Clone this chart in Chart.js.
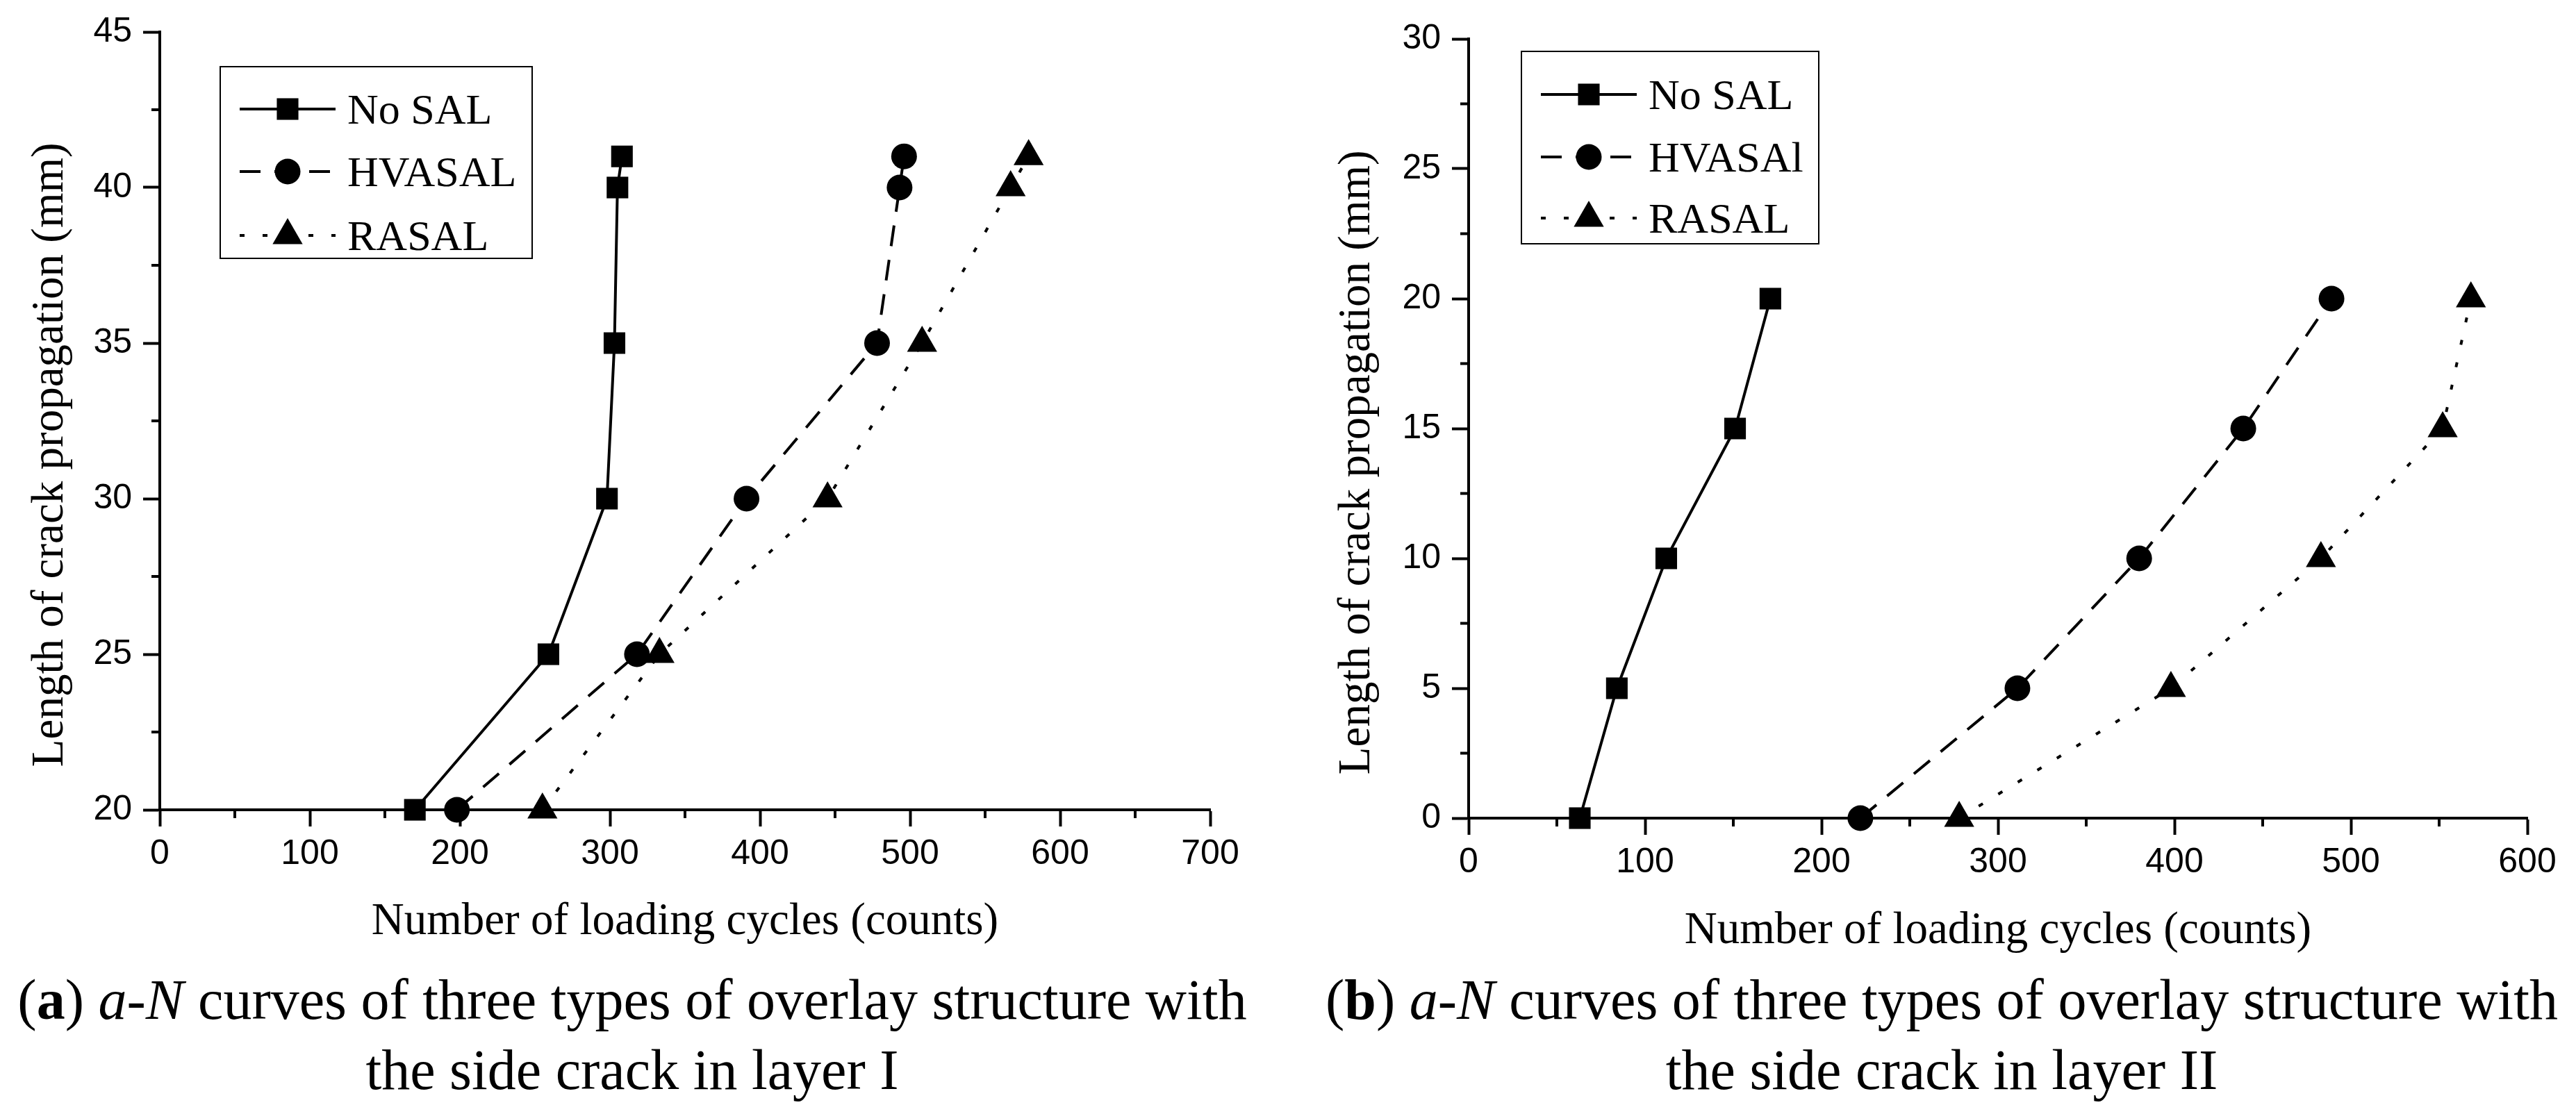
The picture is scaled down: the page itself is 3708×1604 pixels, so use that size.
<!DOCTYPE html>
<html>
<head>
<meta charset="utf-8">
<script src="https://cdn.jsdelivr.net/npm/chart.js@4.4.1/dist/chart.umd.min.js"></script>
<style>
  html, body { margin: 0; padding: 0; background: #fff; }
  body { width: 3708px; height: 1604px; position: relative; overflow: hidden; }
  canvas { position: absolute; top: 0; }
  #chart-a { left: 0; }
  #chart-b { left: 1854px; }
  .caption {
    position: absolute;
    top: 1389px;
    font-family: "Liberation Serif", "Times New Roman", serif;
    font-size: 82px;
    line-height: 101px;
    text-align: center;
    color: #000;
    white-space: nowrap;
  }
  #cap-a { left: 0; width: 1820px; }
  #cap-b { left: 1882px; width: 1826px; }
</style>
</head>
<body>
<canvas id="chart-a" width="1854" height="1400"></canvas>
<canvas id="chart-b" width="1854" height="1400"></canvas>
<div class="caption" id="cap-a">(<b>a</b>) <i>a</i>-<i>N</i> curves of three types of overlay structure with<br>the side crack in layer I</div>
<div class="caption" id="cap-b">(<b>b</b>) <i>a</i>-<i>N</i> curves of three types of overlay structure with<br>the side crack in layer II</div>
<script>
"use strict";

/* --- DATA: side crack in layer I --- */
const a_labels = ['No SAL', 'HVASAL', 'RASAL'];
const a_nosal_x  = [170, 259, 298, 303, 305, 308];
const a_nosal_y  = [20, 25, 30, 35, 40, 41];
const a_hvasal_x = [198, 318, 391, 478, 493, 496];
const a_hvasal_y = [20, 25, 30, 35, 40, 41];
const a_rasal_x  = [255, 333, 445, 508, 567, 579];
const a_rasal_y  = [20, 25, 30, 35, 40, 41];

/* --- DATA: side crack in layer II --- */
const b_labels = ['No SAL', 'HVASAl', 'RASAL'];
const b_nosal_x  = [63, 84, 112, 151, 171];
const b_nosal_y  = [0, 5, 10, 15, 20];
const b_hvasal_x = [222, 311, 380, 439, 489];
const b_hvasal_y = [0, 5, 10, 15, 20];
const b_rasal_x  = [278, 398, 483, 552, 568];
const b_rasal_y  = [0, 5, 10, 15, 20];

const x_title = 'Number of loading cycles (counts)';
const y_title = 'Length of crack propagation (mm)';

const SERIF = '"Liberation Serif", "Times New Roman", serif';
const NARROW = '"Liberation Sans Narrow", "Arial Narrow", "Liberation Sans", sans-serif';

function pts(xs, ys) {
  return xs.map((x, i) => ({x: x, y: ys[i]}));
}

function series(label, xs, ys, style, radius, dash) {
  return {
    label: label,
    data: pts(xs, ys),
    borderColor: '#000',
    backgroundColor: '#000',
    borderWidth: 4,
    borderDash: dash,
    pointStyle: style,
    pointRadius: radius,
    pointHoverRadius: radius,
    pointBorderWidth: 0,
    tension: 0,
    clip: false
  };
}

/* minor ticks half way between the labelled ones */
const minorTicks = {
  id: 'minorTicks',
  afterDraw(chart, args, opts) {
    const ctx = chart.ctx;
    const xs = chart.scales.x;
    const ys = chart.scales.y;
    ctx.save();
    ctx.strokeStyle = '#000';
    ctx.lineWidth = 4;
    ctx.beginPath();
    for (let v = xs.min + opts.x; v < xs.max; v += 2 * opts.x) {
      const px = xs.getPixelForValue(v);
      ctx.moveTo(px, ys.bottom);
      ctx.lineTo(px, ys.bottom + opts.len);
    }
    for (let v = ys.min + opts.y; v < ys.max; v += 2 * opts.y) {
      const py = ys.getPixelForValue(v);
      ctx.moveTo(xs.left, py);
      ctx.lineTo(xs.left - opts.len, py);
    }
    ctx.stroke();
    ctx.restore();
  }
};

/* framed legend in the top left corner */
const boxLegend = {
  id: 'boxLegend',
  afterDraw(chart, args, opts) {
    const ctx = chart.ctx;
    ctx.save();
    ctx.strokeStyle = '#000';
    ctx.fillStyle = '#000';
    ctx.lineWidth = 2;
    ctx.strokeRect(opts.left, opts.top, opts.width, opts.height);
    ctx.font = '62px ' + SERIF;
    ctx.textBaseline = 'alphabetic';
    chart.data.datasets.forEach((ds, i) => {
      const y = opts.rows[i];
      const x0 = opts.left + 28;
      ctx.lineWidth = ds.borderWidth;
      ctx.setLineDash(ds.borderDash);
      ctx.beginPath();
      ctx.moveTo(x0, y);
      ctx.lineTo(x0 + 138, y);
      ctx.stroke();
      ctx.setLineDash([]);
      Chart.helpers.drawPoint(ctx, {
        pointStyle: ds.pointStyle,
        radius: ds.pointRadius,
        rotation: 0,
        borderWidth: 0
      }, x0 + 69, y);
      ctx.fillText(ds.label, opts.left + 183, y + 21);
    });
    ctx.restore();
  }
};

function makeChart(el, datasets, cfg) {
  return new Chart(el, {
    type: 'line',
    data: {datasets: datasets},
    plugins: [minorTicks, boxLegend],
    options: {
      responsive: false,
      animation: false,
      devicePixelRatio: 1,
      layout: {padding: cfg.padding},
      plugins: {
        legend: {display: false},
        tooltip: {enabled: false},
        minorTicks: {x: cfg.xStep / 2, y: cfg.yStep / 2, len: 12},
        boxLegend: cfg.legend
      },
      scales: {
        x: {
          type: 'linear',
          min: 0,
          max: cfg.xMax,
          afterFit: (s) => { s.height = cfg.xHeight; },
          ticks: {stepSize: cfg.xStep, color: '#000', padding: 10, font: {family: NARROW, size: 50}},
          grid: {drawOnChartArea: false, drawTicks: true, tickLength: 24, tickWidth: 4, tickColor: '#000'},
          border: {display: true, color: '#000', width: 4},
          title: {display: true, text: x_title, color: '#000', padding: {top: 0, bottom: cfg.xTitlePad}, font: {family: SERIF, size: 65}}
        },
        y: {
          type: 'linear',
          min: cfg.yMin,
          max: cfg.yMax,
          afterFit: (s) => { s.width = cfg.yWidth; },
          ticks: {stepSize: cfg.yStep, color: '#000', padding: 16, font: {family: NARROW, size: 50}},
          grid: {drawOnChartArea: false, drawTicks: true, tickLength: 24, tickWidth: 4, tickColor: '#000'},
          border: {display: true, color: '#000', width: 4},
          title: {display: true, text: y_title + '      ', color: '#000', padding: {top: cfg.yTitlePad, bottom: 0}, font: {family: SERIF, size: 65}}
        }
      }
    }
  });
}

/* --- (a) LAYER I --- */
const chart_a = makeChart(document.getElementById('chart-a'), [
  series(a_labels[0], a_nosal_x, a_nosal_y, 'rect', 22, []),
  series(a_labels[1], a_hvasal_x, a_hvasal_y, 'circle', 18.5, [30, 20]),
  series(a_labels[2], a_rasal_x, a_rasal_y, 'triangle', 25, [7, 26])
], {
  padding: {top: 43, right: 112, left: 0, bottom: 0},
  xMax: 700, xStep: 100, xHeight: 234, xTitlePad: 33,
  yMin: 20, yMax: 45, yStep: 5, yWidth: 230, yTitlePad: 34,
  legend: {left: 317, top: 96, width: 449, height: 276, rows: [157, 247, 339]}
});

/* --- (b) LAYER II --- */
const chart_b = makeChart(document.getElementById('chart-b'), [
  series(b_labels[0], b_nosal_x, b_nosal_y, 'rect', 22, []),
  series(b_labels[1], b_hvasal_x, b_hvasal_y, 'circle', 18.5, [30, 20]),
  series(b_labels[2], b_rasal_x, b_rasal_y, 'triangle', 25, [7, 26])
], {
  padding: {top: 56, right: 70, left: 0, bottom: 0},
  xMax: 600, xStep: 100, xHeight: 222, xTitlePad: 20,
  yMin: 0, yMax: 30, yStep: 5, yWidth: 260, yTitlePad: 61,
  legend: {left: 336, top: 74, width: 428, height: 277, rows: [136, 226, 314]}
});
</script>
</body>
</html>
